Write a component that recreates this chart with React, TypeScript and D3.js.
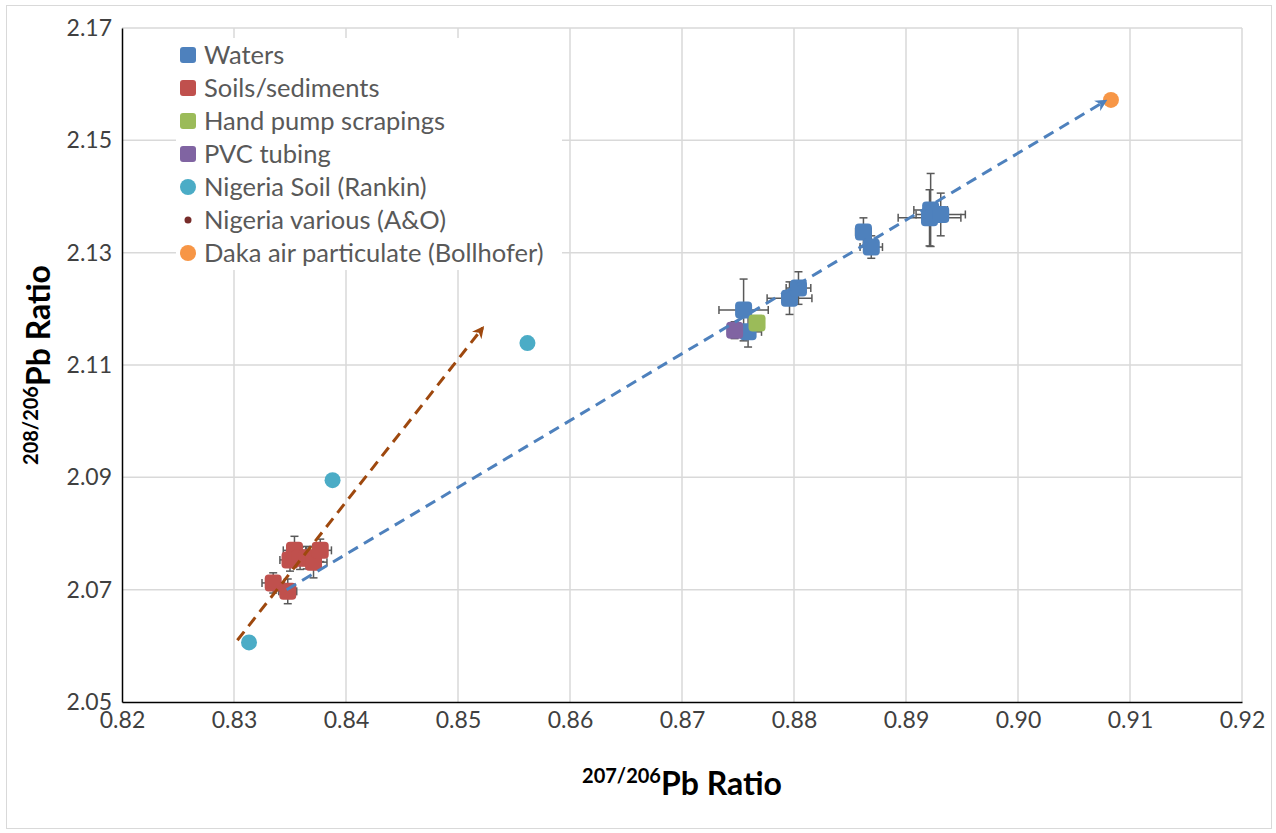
import React, { useEffect, useRef } from "react";
import * as d3 from "d3";

// [x, y, xErr, yErr]
const waters = [
  [0.8755, 2.1198, 0.0022, 0.0055],
  [0.8759, 2.1159, 0.0012, 0.0027],
  [0.8796, 2.1219, 0.002, 0.0029],
  [0.8804, 2.1237, 0.0011, 0.0029],
  [0.8862, 2.1337, 0.0007, 0.0025],
  [0.8869, 2.131, 0.001, 0.002],
  [0.8921, 2.1362, 0.0028, 0.005],
  [0.8922, 2.1376, 0.0015, 0.0065],
  [0.8931, 2.1368, 0.0022, 0.0038],
];
const soils = [
  [0.8335, 2.0712, 0.001, 0.0018],
  [0.8348, 2.0697, 0.0008, 0.0022],
  [0.835, 2.0753, 0.0009, 0.002],
  [0.8354, 2.077, 0.001, 0.0025],
  [0.8359, 2.0756, 0.001, 0.002],
  [0.8365, 2.0757, 0.0008, 0.002],
  [0.8371, 2.0749, 0.0012, 0.0028],
  [0.8377, 2.077, 0.001, 0.002],
];
const handPump = [[0.8767, 2.1175, 0.0004, 0.0006]];
const pvc = [[0.8747, 2.1162, 0.0004, 0.0015]];
const rankin = [
  [0.83134, 2.0606],
  [0.8388, 2.0895],
  [0.8562, 2.1139],
];
const aAndO: number[][] = [];
const bollhofer = [[0.9083, 2.1572]];

const blueTrend = [
  [0.8347, 2.07],
  [0.9078, 2.157],
];
const brownTrend = [
  [0.8303, 2.061],
  [0.8522, 2.1166],
];

const xTicks = [0.82, 0.83, 0.84, 0.85, 0.86, 0.87, 0.88, 0.89, 0.9, 0.91, 0.92];
const yTicks = [2.05, 2.07, 2.09, 2.11, 2.13, 2.15, 2.17];

const legendItems = [
  { name: "Waters", color: "#4E81BD", shape: "square" },
  { name: "Soils/sediments", color: "#C0504D", shape: "square" },
  { name: "Hand pump scrapings", color: "#9BBB59", shape: "square" },
  { name: "PVC tubing", color: "#8064A2", shape: "square" },
  { name: "Nigeria Soil (Rankin)", color: "#4BACC6", shape: "circle" },
  { name: "Nigeria various (A&O)", color: "#772C2A", shape: "dot" },
  { name: "Daka air particulate (Bollhofer)", color: "#F79646", shape: "circle" },
];

const App = () => {
  const ref = useRef<SVGSVGElement>(null);

  useEffect(() => {
    document.body.style.margin = "0";
    const svg = d3.select(ref.current);
    svg.selectAll("*").remove();

    const margin = { top: 28, left: 122, right: 34, bottom: 131 };
    const W = 1276;
    const H = 833;

    const x = d3.scaleLinear().domain([0.82, 0.92]).range([margin.left, W - margin.right]);
    const y = d3.scaleLinear().domain([2.05, 2.17]).range([H - margin.bottom, margin.top]);

    const font = "Lato, 'Open Sans', sans-serif";

    svg.append("rect").attr("x", 0).attr("y", 0).attr("width", W).attr("height", H).attr("fill", "white");
    svg
      .append("rect")
      .attr("x", 6.5)
      .attr("y", 5.5)
      .attr("width", W - 11)
      .attr("height", H - 10)
      .attr("fill", "none")
      .attr("stroke", "#D9D9D9");

    // grid
    const grid = svg.append("g").attr("stroke", "#D9D9D9").attr("stroke-width", 1.5);
    grid
      .selectAll("line.v")
      .data(xTicks.slice(1))
      .join("line")
      .attr("x1", (d) => x(d))
      .attr("x2", (d) => x(d))
      .attr("y1", y(2.05))
      .attr("y2", y(2.17));
    grid
      .selectAll("line.h")
      .data(yTicks.slice(1))
      .join("line")
      .attr("class", "h")
      .attr("x1", x(0.82))
      .attr("x2", x(0.92))
      .attr("y1", (d) => y(d))
      .attr("y2", (d) => y(d));

    // axes
    const xAxis = svg
      .append("g")
      .attr("transform", `translate(0,${y(2.05)})`)
      .call(d3.axisBottom(x).tickValues(xTicks).tickSize(0).tickPadding(10).tickFormat(d3.format(".2f")));
    const yAxis = svg
      .append("g")
      .attr("transform", `translate(${x(0.82)},0)`)
      .call(d3.axisLeft(y).tickValues(yTicks).tickSize(0).tickPadding(10).tickFormat(d3.format(".2f")));
    [xAxis, yAxis].forEach((a) => {
      a.select(".domain").attr("stroke", "#000").attr("stroke-width", 1.5);
      a.selectAll("text").attr("font-family", font).attr("font-size", 23).attr("fill", "#404040");
    });

    // trend arrows
    const defs = svg.append("defs");
    const marker = (id: string, color: string) =>
      defs
        .append("marker")
        .attr("id", id)
        .attr("viewBox", "0 0 10 10")
        .attr("refX", 8)
        .attr("refY", 5)
        .attr("markerWidth", 4)
        .attr("markerHeight", 4)
        .attr("orient", "auto")
        .append("path")
        .attr("d", "M0,0 L10,5 L0,10 L3,5 Z")
        .attr("fill", color);
    marker("arrBlue", "#4E81BD");
    marker("arrBrown", "#9E480E");

    const line = d3
      .line<number[]>()
      .x((d) => x(d[0]))
      .y((d) => y(d[1]));

    // error bars
    const errG = svg.append("g").attr("stroke", "#595959").attr("stroke-width", 1.5);
    const drawErr = (data: number[][]) => {
      data.forEach((d) => {
        const cx = x(d[0]);
        const cy = y(d[1]);
        const x0 = x(d[0] - d[2]);
        const x1 = x(d[0] + d[2]);
        const y0 = y(d[1] - d[3]);
        const y1 = y(d[1] + d[3]);
        errG.append("line").attr("x1", x0).attr("x2", x1).attr("y1", cy).attr("y2", cy);
        errG.append("line").attr("x1", x0).attr("x2", x0).attr("y1", cy - 4).attr("y2", cy + 4);
        errG.append("line").attr("x1", x1).attr("x2", x1).attr("y1", cy - 4).attr("y2", cy + 4);
        errG.append("line").attr("x1", cx).attr("x2", cx).attr("y1", y0).attr("y2", y1);
        errG.append("line").attr("x1", cx - 4).attr("x2", cx + 4).attr("y1", y0).attr("y2", y0);
        errG.append("line").attr("x1", cx - 4).attr("x2", cx + 4).attr("y1", y1).attr("y2", y1);
      });
    };

    const squares = (data: number[][], color: string) => {
      drawErr(data);
      svg
        .append("g")
        .selectAll("rect")
        .data(data)
        .join("rect")
        .attr("x", (d) => x(d[0]) - 8.5)
        .attr("y", (d) => y(d[1]) - 8.5)
        .attr("width", 17)
        .attr("height", 17)
        .attr("rx", 4)
        .attr("fill", color);
    };
    const circles = (data: number[][], color: string, r: number) => {
      svg
        .append("g")
        .selectAll("circle")
        .data(data)
        .join("circle")
        .attr("cx", (d) => x(d[0]))
        .attr("cy", (d) => y(d[1]))
        .attr("r", r)
        .attr("fill", color);
    };

    squares(waters, "#4E81BD");
    squares(soils, "#C0504D");
    squares(pvc, "#8064A2");
    squares(handPump, "#9BBB59");
    circles(rankin, "#4BACC6", 8);
    circles(aAndO, "#772C2A", 3.5);
    circles(bollhofer, "#F79646", 8);

    svg
      .append("path")
      .attr("d", line(blueTrend))
      .attr("fill", "none")
      .attr("stroke", "#4E81BD")
      .attr("stroke-width", 3)
      .attr("stroke-dasharray", "11 7")
      .attr("marker-end", "url(#arrBlue)");
    svg
      .append("path")
      .attr("d", line(brownTrend))
      .attr("fill", "none")
      .attr("stroke", "#9E480E")
      .attr("stroke-width", 3)
      .attr("stroke-dasharray", "11 7")
      .attr("marker-end", "url(#arrBrown)");

    // legend
    const lg = svg.append("g").attr("transform", "translate(176,38)");
    lg.append("rect").attr("x", 0).attr("y", 0).attr("width", 386).attr("height", 232).attr("fill", "white");
    legendItems.forEach((it, i) => {
      const cy = 17 + i * 33;
      const g = lg.append("g");
      if (it.shape === "square") {
        g.append("rect").attr("x", 4).attr("y", cy - 8).attr("width", 16).attr("height", 16).attr("rx", 3).attr("fill", it.color);
      } else if (it.shape === "circle") {
        g.append("circle").attr("cx", 12).attr("cy", cy).attr("r", 8).attr("fill", it.color);
      } else {
        g.append("circle").attr("cx", 12).attr("cy", cy).attr("r", 3.5).attr("fill", it.color);
      }
      g.append("text")
        .attr("x", 28)
        .attr("y", cy)
        .attr("dy", "0.36em")
        .attr("font-family", font)
        .attr("font-size", 25.5)
        .attr("fill", "#595959")
        .text(it.name);
    });

    // axis titles
    const xt = svg
      .append("text")
      .attr("x", (x(0.82) + x(0.92)) / 2)
      .attr("y", 795)
      .attr("text-anchor", "middle")
      .attr("font-family", font)
      .attr("font-weight", "bold")
      .attr("font-size", 32)
      .attr("fill", "#000");
    xt.append("tspan").attr("font-size", 20).attr("dy", -12).text("207/206");
    xt.append("tspan").attr("dy", 12).text("Pb Ratio");

    const yt = svg
      .append("text")
      .attr("transform", `translate(50,${(y(2.05) + y(2.17)) / 2}) rotate(-90)`)
      .attr("text-anchor", "middle")
      .attr("font-family", font)
      .attr("font-weight", "bold")
      .attr("font-size", 32)
      .attr("fill", "#000");
    yt.append("tspan").attr("font-size", 20).attr("dy", -12).text("208/206");
    yt.append("tspan").attr("dy", 12).text("Pb Ratio");
  }, []);

  return <svg ref={ref} width={1276} height={833} style={{ display: "block" }}></svg>;
};

export default App;
